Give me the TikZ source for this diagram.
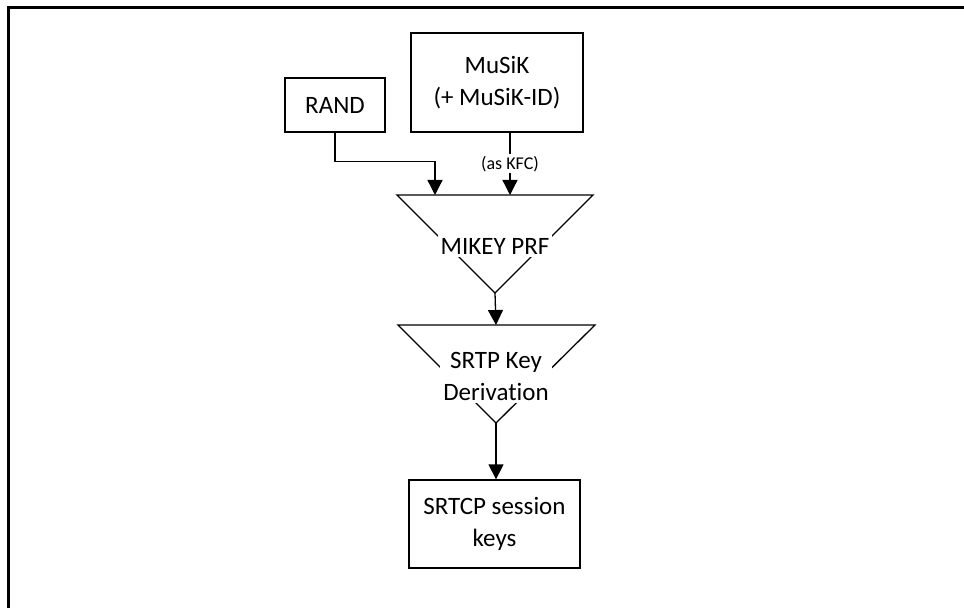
\documentclass[tikz,border=0pt]{standalone}
\usepackage{fontspec}
\setmainfont{Carlito}[RawFeature=-liga]
\usepackage{tikz}
\usetikzlibrary{arrows.meta,positioning}

\begin{document}
\begin{tikzpicture}[
    x=1bp, y=-1bp,
    box/.style={draw, line width=1.3bp, align=center, inner sep=0pt,
                font=\fontsize{25bp}{32bp}\selectfont},
    lbl/.style={fill=white, align=center, inner sep=3bp,
                font=\fontsize{25bp}{32bp}\selectfont},
    small/.style={fill=white, inner sep=1.5bp, font=\fontsize{18bp}{20bp}\selectfont},
    tri/.style={line width=1.3bp},
    arr/.style={-{Triangle[width=15bp,length=15bp]}, line width=1.3bp},
    frame/.style={line width=2.5bp}
  ]
    \useasboundingbox (0,0) rectangle (964,608);
    %% -- frame --
    \draw[frame] (964,7.5) -- (8.5,7.5) -- (8.5,608);

    %% -- inputs --
    \node[box, minimum width=100bp, minimum height=54bp] (rand)  at (335,105)  {RAND};
    \node[box, minimum width=172bp, minimum height=99bp] (musik) at (497,82.5) {MuSiK\\(+ MuSiK-ID)};

    %% -- MIKEY PRF --
    \coordinate (prfL) at (397,195);
    \coordinate (prfR) at (593,195);
    \coordinate (prfB) at (495,293);
    \coordinate (in1)  at (435,195);
    \coordinate (in2)  at (510,195);
    \draw[tri] (prfL) -- (prfR) -- (prfB) -- cycle;
    \node[lbl] (prf) at (495,246) {MIKEY PRF};

    %% -- SRTP key derivation --
    \coordinate (kdL) at (398,325);
    \coordinate (kdR) at (595,325);
    \coordinate (kdB) at (496,423);
    \coordinate (kdT) at (496,325);
    \draw[tri] (kdL) -- (kdR) -- (kdB) -- cycle;
    \node[lbl] (srtp) at (496,376) {SRTP Key\\Derivation};

    %% -- output --
    \node[box, minimum width=171bp, minimum height=88bp] (keys) at (494.5,524) {SRTCP session\\keys};

    %% -- connectors --
    \draw[arr] (rand.south) -- ++(0,29) -| (in1);
    \draw[arr] (musik.south -| in2) -- node[small] (kfc) {(as KFC)} (in2);
    \draw[arr] (prfB) -- (kdT);
    \draw[arr] (kdB) -- (kdB |- keys.north);
  \end{tikzpicture}
\end{document}
